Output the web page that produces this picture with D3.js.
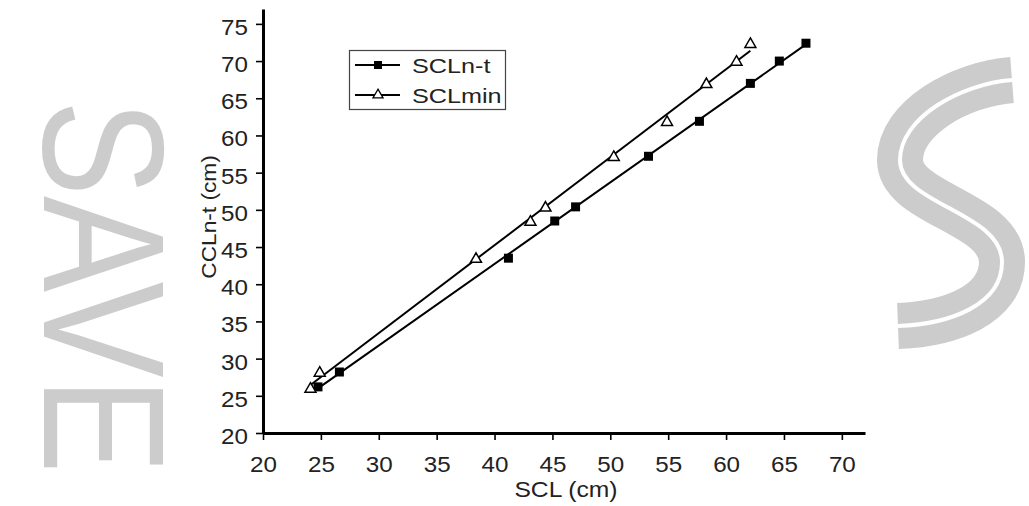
<!DOCTYPE html>
<html>
<head>
<meta charset="utf-8">
<script src="https://cdn.jsdelivr.net/npm/d3@7/dist/d3.min.js"></script>
<style>
  html, body { margin: 0; padding: 0; background: #fff; }
  svg { display: block; }
  text { font-family: "Liberation Sans", Arial, sans-serif; }
</style>
</head>
<body>
<svg id="chart" width="1029" height="506"></svg>
<script>
// ---- data ----
const xTicks = [20, 25, 30, 35, 40, 45, 50, 55, 60, 65, 70];
const yTicks = [20, 25, 30, 35, 40, 45, 50, 55, 60, 65, 70, 75];

const seriesNames = ["SCLn-t", "SCLmin"];
const sclNtX = [24.75, 26.6, 41.2, 45.2, 47.0, 53.3, 57.7, 62.1, 64.6, 66.9];
const sclNtY = [26.2, 28.2, 43.5, 48.5, 50.4, 57.2, 61.9, 67.0, 70.0, 72.4];
const sclMinX = [24.1, 24.9, 38.4, 43.1, 44.4, 50.3, 54.9, 58.3, 60.9, 62.1];
const sclMinY = [26.05, 28.2, 43.5, 48.5, 50.4, 57.2, 61.9, 67.0, 70.0, 72.4];

const xLabel = "SCL (cm)";
const yLabel = "CCLn-t (cm)";
const watermark = "SAVE";

// ---- layout ----
const svg = d3.select("#chart");
const x = d3.scaleLinear().domain([20, 72]).range([263, 865]);
const y = d3.scaleLinear().domain([20, 77]).range([433, 9]);

function stretch(sel, k) {
  sel.each(function () {
    const w = this.getComputedTextLength();
    d3.select(this).attr("textLength", w * k).attr("lengthAdjust", "spacingAndGlyphs");
  });
}

// ---- watermark (decorative) ----
svg.append("text")
  .attr("transform", "translate(44,100) rotate(90) scale(1,1.2)")
  .attr("font-size", 144)
  .attr("fill", "#cccccc")
  .text(watermark);

const sPath = "M 1012,80 C 960,84 900,118 900,160 C 900,205 1002,212 1002,262 C 1002,305 950,324 898,326";
svg.append("path").attr("d", sPath).attr("fill", "none")
  .attr("stroke", "#cccccc").attr("stroke-width", 46);
svg.append("path").attr("d", sPath).attr("fill", "none")
  .attr("stroke", "#ffffff").attr("stroke-width", 4);

// ---- axes ----
const gx = svg.append("g").attr("transform", `translate(0,${y(20)})`)
  .call(d3.axisBottom(x).tickValues(xTicks).tickSize(7).tickSizeOuter(0));
gx.select(".domain").attr("stroke", "#000").attr("stroke-width", 3);
gx.selectAll(".tick line").attr("stroke", "#000").attr("stroke-width", 1.6);
gx.selectAll(".tick text")
  .attr("font-size", 22).attr("fill", "#222")
  .attr("dy", null).attr("y", 39)
  .style("font-family", '"Liberation Sans", Arial, sans-serif');
stretch(gx.selectAll(".tick text"), 1.1);

const gy = svg.append("g").attr("transform", `translate(${x(20)},0)`)
  .call(d3.axisLeft(y).tickValues(yTicks).tickSize(7).tickSizeOuter(0));
gy.select(".domain").attr("stroke", "#000").attr("stroke-width", 3);
gy.selectAll(".tick line").attr("stroke", "#000").attr("stroke-width", 1.6);
gy.selectAll(".tick text")
  .attr("font-size", 22).attr("fill", "#222")
  .attr("dy", null).attr("y", 10.5).attr("x", -15)
  .style("font-family", '"Liberation Sans", Arial, sans-serif');
stretch(gy.selectAll(".tick text"), 1.1);

// axis titles
const xt = svg.append("text")
  .attr("x", 566).attr("y", 497)
  .attr("text-anchor", "middle")
  .attr("font-size", 22).attr("fill", "#222")
  .text(xLabel);
stretch(xt, 1.12);

const yt = svg.append("text")
  .attr("transform", "translate(216,217) rotate(-90)")
  .attr("text-anchor", "middle")
  .attr("font-size", 21).attr("fill", "#222")
  .text(yLabel);
stretch(yt, 1.08);

// ---- regression lines ----
function fit(xs, ys) {
  const n = xs.length;
  const mx = d3.mean(xs), my = d3.mean(ys);
  let sxy = 0, sxx = 0;
  for (let i = 0; i < n; i++) { sxy += (xs[i] - mx) * (ys[i] - my); sxx += (xs[i] - mx) ** 2; }
  const b = sxy / sxx, a = my - b * mx;
  const x0 = d3.min(xs), x1 = d3.max(xs);
  return [[x0, a + b * x0], [x1, a + b * x1]];
}
const line = d3.line().x(d => x(d[0])).y(d => y(d[1]));

svg.append("path").datum(fit(sclNtX, sclNtY)).attr("d", line)
  .attr("fill", "none").attr("stroke", "#000").attr("stroke-width", 2);
svg.append("path").datum(fit(sclMinX, sclMinY)).attr("d", line)
  .attr("fill", "none").attr("stroke", "#000").attr("stroke-width", 2);

// ---- markers ----
const sq = d3.symbol().type(d3.symbolSquare).size(81);
const tri = d3.symbol().type(d3.symbolTriangle).size(52);

svg.append("g").selectAll("path").data(d3.zip(sclNtX, sclNtY)).join("path")
  .attr("d", sq)
  .attr("transform", d => `translate(${x(d[0])},${y(d[1])})`)
  .attr("fill", "#000");

svg.append("g").selectAll("path").data(d3.zip(sclMinX, sclMinY)).join("path")
  .attr("d", tri)
  .attr("transform", d => `translate(${x(d[0])},${y(d[1]) + 1})`)
  .attr("fill", "#fff").attr("stroke", "#000").attr("stroke-width", 1.5);

// ---- legend ----
const lg = svg.append("g");
lg.append("rect").attr("x", 349.5).attr("y", 50.5).attr("width", 156).attr("height", 59)
  .attr("fill", "#fff").attr("stroke", "#444").attr("stroke-width", 1.2);
const rowsY = [65, 95];
seriesNames.forEach((name, i) => {
  const ry = rowsY[i];
  lg.append("line").attr("x1", 355).attr("x2", 400).attr("y1", ry).attr("y2", ry)
    .attr("stroke", "#000").attr("stroke-width", 1.8);
  if (i === 0) {
    lg.append("path").attr("d", d3.symbol().type(d3.symbolSquare).size(64))
      .attr("transform", `translate(378,${ry})`).attr("fill", "#000");
  } else {
    lg.append("path").attr("d", d3.symbol().type(d3.symbolTriangle).size(44))
      .attr("transform", `translate(378,${ry})`)
      .attr("fill", "#fff").attr("stroke", "#000").attr("stroke-width", 1.3);
  }
  const t = lg.append("text").attr("x", 412).attr("y", ry + 8)
    .attr("font-size", 21).attr("fill", "#222").text(name);
  stretch(t, 1.2);
});
</script>
</body>
</html>
